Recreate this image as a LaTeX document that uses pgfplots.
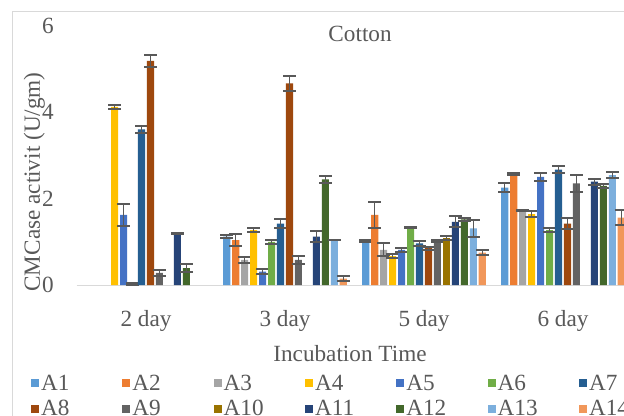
\documentclass[border=0pt]{standalone}
\usepackage{pgfplots}
\pgfplotsset{compat=1.18}
\usepackage{fontspec}
\setmainfont{Liberation Serif}
\definecolor{c1}{HTML}{5B9BD5}
\definecolor{c2}{HTML}{ED7D31}
\definecolor{c3}{HTML}{A5A5A5}
\definecolor{c4}{HTML}{FFC000}
\definecolor{c5}{HTML}{4472C4}
\definecolor{c6}{HTML}{70AD47}
\definecolor{c7}{HTML}{255E91}
\definecolor{c8}{HTML}{9E480E}
\definecolor{c9}{HTML}{636363}
\definecolor{c10}{HTML}{997300}
\definecolor{c11}{HTML}{264478}
\definecolor{c12}{HTML}{43682B}
\definecolor{c13}{HTML}{7CAFDD}
\definecolor{c14}{HTML}{F1975A}
\definecolor{txt}{HTML}{595959}
\definecolor{frm}{HTML}{D9D9D9}
\newcommand\fsz{\fontsize{17.4}{20}\selectfont}
\newcommand\legtxt[1]{\makebox[59.5pt][l]{#1}}
\begin{document}
\begin{tikzpicture}
\useasboundingbox (0,0) rectangle (468pt,311.25pt);
\clip (0,0) rectangle (468pt,311.25pt);
\fill[white] (0,0) rectangle (468pt,311.25pt);
\draw[frm, line width=0.75pt] (9pt,-20pt) -- (9pt,302.25pt) -- (500pt,302.25pt);
\begin{axis}[
  at={(57.375pt,97.5pt)}, anchor=south west,
  scale only axis, width=417pt, height=194.625pt,
  xmin=-0.5, xmax=3.5, ymin=0, ymax=6,
  ybar=1.42pt, bar width=5.3pt,
  axis x line*=bottom, axis y line*=left,
  x axis line style={frm, line width=0.75pt},
  y axis line style={draw=none},
  major tick length=0pt,
  xtick={0,1,2,3}, xticklabels={2 day,3 day,5 day,6 day},
  ytick={0,2,4,6},
  /pgf/number format/assume math mode=true,
  xticklabel style={anchor=base, yshift=-30.75pt, inner sep=0pt, font=\fsz, text=txt},
  yticklabel style={anchor=east, xshift=-16.9pt, inner sep=0pt, font=\fsz, text=txt},
  title={Cotton},
  title style={at={(0.51,0.906)}, anchor=base, font=\fsz, text=txt},
  xlabel={Incubation Time},
  xlabel style={at={(0.4919,-0.2929)}, anchor=base, font=\fsz, text=txt},
  ylabel={CMCase activit (U/gm)},
  ylabel style={at={(-0.0760,0.397)}, anchor=center, rotate=0, font=\fsz, text=txt},
  legend columns=7,
  legend style={at={(-0.0818,-0.3380)}, anchor=north west, draw=none, fill=none,
    inner sep=0pt, outer sep=0pt, font=\fsz, text=txt, row sep=3.3pt,
    nodes={inner sep=1.5pt}},
  legend image code/.code={\fill[#1] (0pt,-3pt) rectangle (6pt,3pt);},
  every axis plot/.append style={draw=none,
    error bars/y dir=both, error bars/y explicit,
    error bars/error bar style={txt, line width=1.0pt},
    error bars/error mark options={txt, line width=1.5pt, mark size=4.7pt, rotate=90}},
]
\addplot[fill=c1] coordinates {(1,1.12) +- (0,0.04) (2,1.02) +- (0,0.02) (3,2.25) +- (0,0.10)};
\addlegendentry{\legtxt{A1}}
\addplot[fill=c2] coordinates {(1,1.04) +- (0,0.13) (2,1.62) +- (0,0.30) (3,2.56) +- (0,0.02)};
\addlegendentry{\legtxt{A2}}
\addplot[fill=c3] coordinates {(1,0.58) +- (0,0.06) (2,0.81) +- (0,0.15) (3,1.72) +- (0,0.02)};
\addlegendentry{\legtxt{A3}}
\addplot[fill=c4] coordinates {(0,4.12) +- (0,0.04) (1,1.27) +- (0,0.05) (2,0.67) +- (0,0.04) (3,1.64) +- (0,0.06)};
\addlegendentry{\legtxt{A4}}
\addplot[fill=c5] coordinates {(0,1.62) +- (0,0.26) (1,0.31) +- (0,0.06) (2,0.81) +- (0,0.05) (3,2.50) +- (0,0.10)};
\addlegendentry{\legtxt{A5}}
\addplot[fill=c6] coordinates {(0,0.02) +- (0,0.02) (1,1.00) +- (0,0.05) (2,1.33) +- (0,0.02) (3,1.27) +- (0,0.05)};
\addlegendentry{\legtxt{A6}}
\addplot[fill=c7] coordinates {(0,3.60) +- (0,0.08) (1,1.42) +- (0,0.10) (2,0.96) +- (0,0.05) (3,2.67) +- (0,0.08)};
\addlegendentry{\legtxt{A7}}
\addplot[fill=c8] coordinates {(0,5.18) +- (0,0.14) (1,4.66) +- (0,0.17) (2,0.85) +- (0,0.04) (3,1.42) +- (0,0.12)};
\addlegendentry{\legtxt{A8}}
\addplot[fill=c9] coordinates {(0,0.28) +- (0,0.07) (1,0.58) +- (0,0.10) (2,1.02) +- (0,0.02) (3,2.35) +- (0,0.20)};
\addlegendentry{\legtxt{A9}}
\addplot[fill=c10] coordinates {(2,1.08) +- (0,0.05)};
\addlegendentry{\legtxt{A10}}
\addplot[fill=c11] coordinates {(0,1.19) +- (0,0.02) (1,1.12) +- (0,0.13) (2,1.46) +- (0,0.13) (3,2.39) +- (0,0.07)};
\addlegendentry{\legtxt{A11}}
\addplot[fill=c12] coordinates {(0,0.39) +- (0,0.10) (1,2.44) +- (0,0.08) (2,1.52) +- (0,0.04) (3,2.29) +- (0,0.04)};
\addlegendentry{\legtxt{A12}}
\addplot[fill=c13] coordinates {(1,1.04) +- (0,0.01) (2,1.31) +- (0,0.20) (3,2.54) +- (0,0.07)};
\addlegendentry{\legtxt{A13}}
\addplot[fill=c14] coordinates {(1,0.15) +- (0,0.05) (2,0.75) +- (0,0.05) (3,1.56) +- (0,0.18)};
\addlegendentry{\legtxt{A14}}
\end{axis}
\end{tikzpicture}
\end{document}
